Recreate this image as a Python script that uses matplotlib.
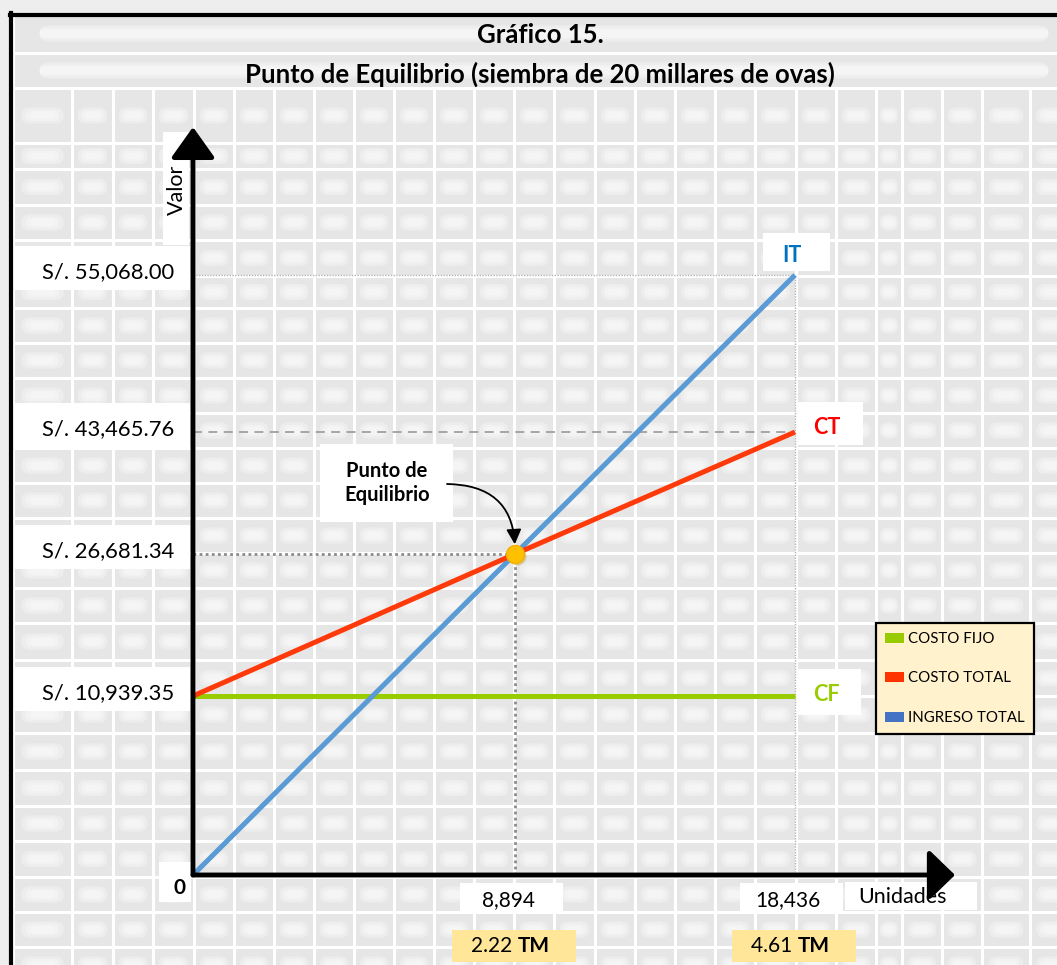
import numpy as np
import matplotlib
matplotlib.use('Agg')
import matplotlib.pyplot as plt
from matplotlib.patches import Rectangle, FancyBboxPatch, Patch
from matplotlib.collections import PatchCollection

plt.rcParams['font.family'] = ['Lato', 'DejaVu Sans']

# ---- data ----
unidades = [0, 8894, 18436]
ingreso_total = [0, 26681.34, 55068.00]
costo_total = [10939.35, 26681.34, 43465.76]
costo_fijo = [10939.35, 10939.35, 10939.35]
pe_x, pe_y = 8894, 26681.34
toneladas = [2.22, 4.61]
titulo = 'Gráfico 15.'
subtitulo = 'Punto de Equilibrio (siembra de 20 millares de ovas)'

# schematic axis: where each value sits along the axis (fraction of axis length)
x_breaks = [0, 8894, 18436]
x_fracs = [0, 0.4226, 0.790]
y_breaks = [0, 10939.35, 26681.34, 43465.76, 55068.00]
y_fracs = [0, 0.2393, 0.4291, 0.5922, 0.8021]


def piecewise(vals, fracs):
    vals = np.asarray(vals, float)
    fracs = np.asarray(fracs, float)
    s_hi = (fracs[-1] - fracs[-2]) / (vals[-1] - vals[-2])
    s_lo = (fracs[1] - fracs[0]) / (vals[1] - vals[0])

    def fwd(v):
        v = np.asarray(v, float)
        out = np.interp(v, vals, fracs)
        out = np.where(v > vals[-1], fracs[-1] + (v - vals[-1]) * s_hi, out)
        out = np.where(v < vals[0], fracs[0] + (v - vals[0]) * s_lo, out)
        return out

    def inv(f):
        f = np.asarray(f, float)
        out = np.interp(f, fracs, vals)
        out = np.where(f > fracs[-1], vals[-1] + (f - fracs[-1]) / s_hi, out)
        out = np.where(f < fracs[0], vals[0] + (f - fracs[0]) / s_lo, out)
        return out
    return fwd, inv


W, H = 1057, 965
fig = plt.figure(figsize=(W / 100, H / 100), dpi=100, facecolor='#eeeeee')

# background "spreadsheet" layer in image pixel coordinates
bg = fig.add_axes([0, 0, 1, 1])
bg.set_xlim(0, W)
bg.set_ylim(H, 0)
bg.axis('off')

cols = [13, 72, 113, 153, 194, 234, 274, 314, 354, 394, 434, 474, 514, 554, 595,
        635, 675, 715, 755, 796, 836, 876, 902, 942, 982, 1030, 1075]
rows = [14, 53, 88, 143, 169, 205, 240, 276, 308, 343, 378, 413, 448, 483, 518,
        553, 588, 623, 660, 696, 733, 770, 806, 841, 877, 912, 947, 982]

bg.add_patch(Rectangle((13, 14), W, H, fc='white', ec='none'))
cells = []
glows = [[], [], []]
glow_scale = [(0.72, 0.62), (0.56, 0.42), (0.40, 0.26)]


def add_cell(x0, x1, y0, y1, wide=False):
    cells.append(Rectangle((x0 + 1.5, y0 + 1.5), x1 - x0 - 3, y1 - y0 - 3))
    w, h = x1 - x0, y1 - y0
    for k, (sw, sh) in enumerate(glow_scale):
        gw = w * (0.95 if wide else sw)
        gh = min(h * sh, 26 * sh)
        glows[k].append(FancyBboxPatch((x0 + (w - gw) / 2, y0 + (h - gh) / 2), gw, gh,
                                       boxstyle='round,pad=0,rounding_size=%.1f' % (gh / 2)))


add_cell(13, 1075, rows[0], rows[1], wide=True)
add_cell(13, 1075, rows[1], rows[2], wide=True)
for r0, r1 in zip(rows[2:-1], rows[3:]):
    for c0, c1 in zip(cols[:-1], cols[1:]):
        add_cell(c0, c1, r0, r1)

bg.add_collection(PatchCollection(cells, fc='#e6e6e6', ec='none'))
for g in glows:
    bg.add_collection(PatchCollection(g, fc='white', ec='none', alpha=0.3))

# frame
bg.plot([11, 11], [13, H], color='black', lw=3)
bg.plot([10, W], [14.5, 14.5], color='black', lw=3)

bg.text(540, 35, titulo, ha='center', va='center', fontsize=18.5, fontweight='bold')
bg.text(540, 74, subtitulo, ha='center', va='center', fontsize=18.5, fontweight='bold')

# ---- chart axes ----
ax = fig.add_axes([193 / W, (H - 875) / H, (955 - 193) / W, (875 - 127) / H])
ax.patch.set_alpha(0)
ax.set_xscale('function', functions=piecewise(x_breaks, x_fracs))
ax.set_yscale('function', functions=piecewise(y_breaks, y_fracs))
fx_inv = piecewise(x_breaks, x_fracs)[1]
fy_inv = piecewise(y_breaks, y_fracs)[1]
ax.set_xlim(0, float(fx_inv(1.0)))
ax.set_ylim(0, float(fy_inv(1.0)))
for s in ax.spines.values():
    s.set_visible(False)
ax.set_xticks([])
ax.set_yticks([])

# guide lines
x_end = unidades[-1]
ax.plot([0, x_end], [ingreso_total[-1]] * 2, color='#b4b4b4', lw=1, ls=(0, (1, 1)), zorder=1)
ax.plot([x_end, x_end], [0, ingreso_total[-1]], color='#b4b4b4', lw=1, ls=(0, (1, 1)), zorder=1)
ax.plot([0, x_end], [costo_total[-1]] * 2, color='#a0a0a0', lw=1.3, ls=(0, (5, 3.5)), zorder=1)
ax.plot([0, pe_x], [pe_y, pe_y], color='#8c8c8c', lw=2, ls=(0, (1, 1.2)), zorder=1)
ax.plot([pe_x, pe_x], [0, pe_y], color='#8c8c8c', lw=2, ls=(0, (1, 1.2)), zorder=1)

# series
ax.plot(unidades, costo_fijo, color='#99cc00', lw=3.6, solid_capstyle='butt', zorder=3)
ax.plot(unidades, ingreso_total, color='#5b9bd5', lw=3.6, solid_capstyle='butt', zorder=3)
ax.plot(unidades, costo_total, color='#ff3a0a', lw=3.6, solid_capstyle='butt', zorder=4)
ax.plot([pe_x], [pe_y], 'o', ms=12, color='#b88a00', alpha=0.25, zorder=5,
        transform=ax.transData + matplotlib.transforms.ScaledTranslation(1.5 / 72, -1.5 / 72, fig.dpi_scale_trans))
ax.plot([pe_x], [pe_y], 'o', ms=13, mfc='#ffc000', mec='#f2b000', mew=1, zorder=6)

# arrows (axes)
ax.annotate('', xy=(0, 1), xytext=(0, 0), xycoords='axes fraction',
            arrowprops=dict(arrowstyle='-|>,head_length=1.9,head_width=1.35', lw=3.5,
                            color='black', shrinkA=0, shrinkB=0, mutation_scale=10), zorder=7)
ax.annotate('', xy=(1, 0), xytext=(0, 0), xycoords='axes fraction',
            arrowprops=dict(arrowstyle='-|>,head_length=1.6,head_width=1.55', lw=3.5,
                            color='black', shrinkA=0, shrinkB=0, mutation_scale=10), zorder=7)


def to_img(x, y):
    d = ax.transData.transform(np.column_stack([np.atleast_1d(x), np.atleast_1d(y)]))
    return bg.transData.inverted().transform(d)


def box(x0, y0, x1, y1, fc='white'):
    bg.add_patch(Rectangle((x0, y0), x1 - x0, y1 - y0, fc=fc, ec='none', zorder=3))


# value labels on the y axis
for v in [ingreso_total[-1], costo_total[-1], pe_y, costo_fijo[0]]:
    _, yi = to_img(0, v)[0]
    box(15, yi - 29, 190, yi + 15)
    bg.text(174, yi - 3, 'S/. {:,.2f}'.format(v), ha='right', va='center', fontsize=15.8, zorder=4)

# unit labels on the x axis
for u, t in zip(unidades[1:], toneladas):
    xi, _ = to_img(u, 0)[0]
    box(xi - 55, 883, xi + 48, 914)
    bg.text(xi - 7, 900, '{:,}'.format(u), ha='center', va='center', fontsize=15, zorder=4)
    box(xi - 63, 930, xi + 61, 962, fc='#ffe699')
    bg.text(xi + 3, 946, '{:.2f} '.format(t), ha='right', va='center', fontsize=15, zorder=4)
    bg.text(xi + 3, 946, 'TM', ha='left', va='center', fontsize=15, fontweight='bold', zorder=4)

# origin, axis titles
box(159, 862, 191, 902)
bg.text(180, 888, '0', ha='center', va='center', fontsize=15, fontweight='bold', zorder=4)
box(163, 132, 189, 245)
bg.text(177, 190, 'Valor', ha='center', va='center', rotation=90, fontsize=15.5, zorder=4)
box(845, 882, 977, 910)
bg.text(902, 897, 'Unidades', ha='center', va='center', fontsize=15.5, zorder=4)

# series end labels
xi, yi = to_img(unidades[-1], ingreso_total[-1])[0]
box(xi - 32, yi - 42, xi + 35, yi - 4)
bg.text(xi - 3, yi - 20, 'IT', ha='center', va='center', fontsize=15.5, fontweight='bold', color='#0070c0', zorder=4)
xi, yi = to_img(unidades[-1], costo_total[-1])[0]
box(xi + 2, yi - 30, xi + 68, yi + 13)
bg.text(xi + 32, yi - 5, 'CT', ha='center', va='center', fontsize=15.5, fontweight='bold', color='#ff0000', zorder=4)
xi, yi = to_img(unidades[-1], costo_fijo[-1])[0]
box(xi, yi - 27, xi + 66, yi + 19)
bg.text(xi + 31, yi - 2, 'CF', ha='center', va='center', fontsize=15.5, fontweight='bold', color='#99cc00', zorder=4)

# break-even callout
box(320, 444, 453, 522)
bg.text(387, 483, 'Punto de\nEquilibrio', ha='center', va='center', fontsize=14.5,
        fontweight='bold', linespacing=1.3, zorder=4)
px, py = to_img(pe_x, pe_y)[0]
bg.annotate('', xy=(px, py), xytext=(447, 484),
            arrowprops=dict(arrowstyle='-|>,head_length=0.9,head_width=0.45', lw=1.3, color='black',
                            connectionstyle='arc3,rad=-0.5', shrinkA=0, shrinkB=7,
                            mutation_scale=10), zorder=8)

# legend
handles = [Patch(fc='#99cc00', label='COSTO FIJO'),
           Patch(fc='#ff3300', label='COSTO TOTAL'),
           Patch(fc='#4472c4', label='INGRESO TOTAL')]
leg = fig.legend(handles=handles, loc='upper left', bbox_to_anchor=(876 / W, 1 - 623 / H),
                 bbox_transform=fig.transFigure, frameon=True, fancybox=False,
                 fontsize=10.8, handlelength=1.25, handleheight=0.65, handletextpad=0.3,
                 labelspacing=1.7, borderpad=0.6, borderaxespad=0)
leg.get_frame().set_facecolor('#fff2cc')
leg.get_frame().set_edgecolor('black')
leg.get_frame().set_linewidth(1.6)
leg.get_frame().set_alpha(1)

fig.savefig('out.png', dpi=100, facecolor=fig.get_facecolor())
